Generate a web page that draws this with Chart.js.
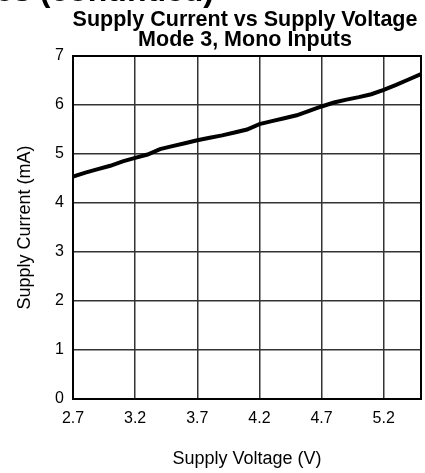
<!DOCTYPE html>
<html>
<head>
<meta charset="utf-8">
<script src="https://cdn.jsdelivr.net/npm/chart.js@4/dist/chart.umd.min.js"></script>
<style>
  html, body { margin: 0; padding: 0; background: #fff; }
  #wrap { width: 425px; height: 473px; position: relative; overflow: hidden; }
</style>
</head>
<body>
<div id="wrap"><canvas id="c" width="425" height="473"></canvas></div>
<script>
// Supply voltage (V) and measured supply current (mA)
const voltage = [2.7, 2.8, 2.9, 3.0, 3.1, 3.2, 3.3, 3.4, 3.5, 3.6, 3.7, 3.8, 3.9, 4.0,
                 4.1, 4.2, 4.3, 4.4, 4.5, 4.6, 4.7, 4.8, 4.9, 5.0, 5.1, 5.2, 5.3, 5.4, 5.5];
const current = [4.54, 4.62, 4.69, 4.76, 4.85, 4.92, 4.99, 5.10, 5.16, 5.22, 5.28, 5.33, 5.38, 5.44,
                 5.50, 5.61, 5.67, 5.73, 5.79, 5.88, 5.97, 6.05, 6.11, 6.16, 6.22, 6.31, 6.41, 6.52, 6.63];
const xTicks = [2.7, 3.2, 3.7, 4.2, 4.7, 5.2];
const yTicks = [0, 1, 2, 3, 4, 5, 6, 7];

const pageHeading = 'Typical Characteristics (continued)';
const titleLines = ['Supply Current vs Supply Voltage', 'Mode 3, Mono Inputs'];

const FONT = '"Liberation Sans", Arial, Helvetica, sans-serif';

const frameAndTitles = {
  id: 'frameAndTitles',
  afterDraw(chart) {
    const { ctx, chartArea: a } = chart;
    ctx.save();
    // plot frame
    ctx.strokeStyle = '#000';
    ctx.lineWidth = 2;
    ctx.strokeRect(a.left, a.top, a.right - a.left, a.bottom - a.top);
    // page heading running off the top edge
    ctx.fillStyle = '#000';
    ctx.textBaseline = 'alphabetic';
    ctx.textAlign = 'right';
    ctx.font = 'bold 32px ' + FONT;
    ctx.fillText(pageHeading, 214, 1);
    // chart title, centred over the plot
    ctx.textAlign = 'center';
    ctx.font = 'bold 21.5px ' + FONT;
    const cx = (a.left + a.right) / 2 - 2;
    ctx.fillText(titleLines[0], cx, 26);
    ctx.fillText(titleLines[1], cx, 45.5);
    ctx.restore();
  }
};

new Chart(document.getElementById('c'), {
  type: 'line',
  data: {
    datasets: [{
      data: voltage.map((v, i) => ({ x: v, y: current[i] })),
      borderColor: '#000',
      borderWidth: 4,
      pointRadius: 0,
      tension: 0,
      fill: false
    }]
  },
  options: {
    responsive: false,
    animation: false,
    layout: { padding: { top: 56, right: 4, left: 0, bottom: 0 } },
    plugins: { legend: { display: false }, title: { display: false }, tooltip: { enabled: false } },
    scales: {
      x: {
        type: 'linear',
        min: 2.7,
        max: 5.5,
        afterBuildTicks(scale) { scale.ticks = xTicks.map(v => ({ value: v })); },
        afterFit(scale) { scale.height = 74; },
        border: { display: false },
        grid: { color: '#333333', lineWidth: 1.5, drawTicks: false },
        ticks: {
          padding: 10,
          color: '#000',
          font: { family: FONT, size: 16 },
          callback: v => v.toFixed(1)
        },
        title: {
          display: true,
          text: 'Supply Voltage (V)',
          color: '#000',
          font: { family: FONT, size: 18 },
          padding: { top: 3, bottom: 3 }
        }
      },
      y: {
        min: 0,
        max: 7,
        afterBuildTicks(scale) { scale.ticks = yTicks.map(v => ({ value: v })); },
        afterFit(scale) { scale.width = 73; },
        border: { display: false },
        grid: { color: '#333333', lineWidth: 1.5, drawTicks: false },
        ticks: {
          padding: 9,
          color: '#000',
          font: { family: FONT, size: 16 }
        },
        title: {
          display: true,
          text: 'Supply Current (mA)',
          color: '#000',
          font: { family: FONT, size: 18 },
          padding: { top: 14, bottom: 14 }
        }
      }
    }
  },
  plugins: [frameAndTitles]
});
</script>
</body>
</html>
